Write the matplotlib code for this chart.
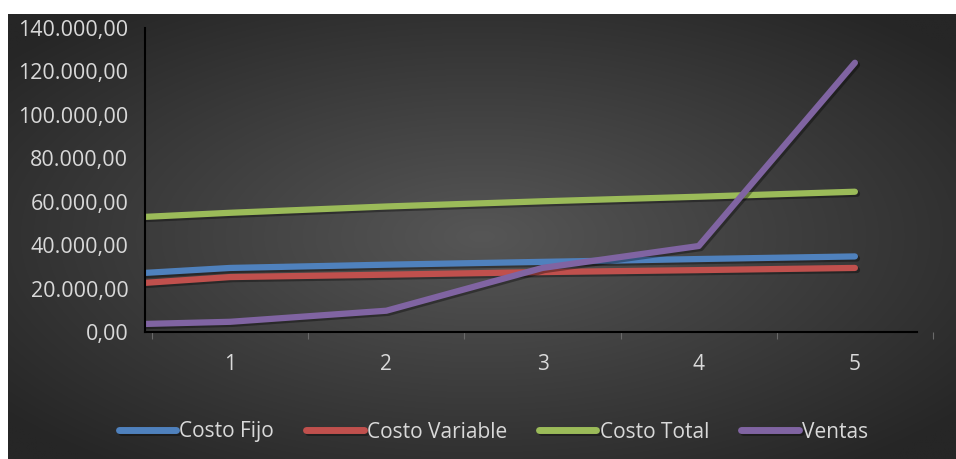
import numpy as np
import matplotlib
matplotlib.use("Agg")
import matplotlib.pyplot as plt
import matplotlib.patheffects as pe
from matplotlib.ticker import FuncFormatter

# categories (first point sits on the left edge of the axis)
periodos = [0.45, 1, 2, 3, 4, 5]
tick_labels = ["1", "2", "3", "4", "5"]

costo_fijo = [27200, 29500, 31000, 32300, 33600, 34800]
costo_variable = [22600, 25300, 26400, 27600, 28500, 29500]
costo_total = [53000, 54900, 57800, 60200, 62300, 64600]
ventas = [3700, 4700, 9800, 29500, 39600, 124000]

series = [
    ("Costo Fijo", costo_fijo, "#4F81BD"),
    ("Costo Variable", costo_variable, "#C0504D"),
    ("Costo Total", costo_total, "#9BBB59"),
    ("Ventas", ventas, "#8064A2"),
]

plt.rcParams['font.family'] = ['Open Sans', 'DejaVu Sans']
text_col = "#D9D9D9"

W, H = 956, 459
fig = plt.figure(figsize=(W / 100, H / 100), dpi=100)
fig.patch.set_facecolor("white")

# dark radial gradient background
bg = fig.add_axes([8 / W, 0, (W - 8) / W, (H - 14) / H])
bg.set_axis_off()
gx, gy = np.meshgrid(np.linspace(-1, 1, 400), np.linspace(-1, 1, 200))
r = np.clip(np.sqrt(gx ** 2 + gy ** 2) / 1.3, 0, 1)
light = np.array([0x56, 0x56, 0x56]) / 255
dark = np.array([0x26, 0x26, 0x26]) / 255
img = light[None, None, :] * (1 - r[..., None]) + dark[None, None, :] * r[..., None]
bg.imshow(img, aspect="auto", extent=[0, 1, 0, 1], interpolation="bilinear")
bg.set_zorder(-1)

ax = fig.add_axes([145 / W, 127 / H, (933 - 145) / W, (332 - 28) / H])
ax.set_facecolor("none")

shadow = [pe.SimpleLineShadow(offset=(1.5, -1.5), shadow_color="black", alpha=0.35), pe.Normal()]
for name, vals, col in series:
    ax.plot(periodos, vals, color=col, lw=4.5, label=name, solid_capstyle="round",
            solid_joinstyle="round", path_effects=shadow)

ax.set_xlim(0.455, 5.5)
ax.set_ylim(0, 140000)
ax.set_yticks(np.arange(0, 140001, 20000))
ax.yaxis.set_major_formatter(FuncFormatter(
    lambda v, p: "{:,.2f}".format(v).replace(",", "X").replace(".", ",").replace("X", ".")))
ax.tick_params(axis="y", length=0, pad=12, labelsize=15.5, labelcolor=text_col)

ax.set_xticks(np.arange(0.5, 5.6, 1))
ax.set_xticklabels([])
ax.tick_params(axis="x", which="major", length=5, color="#6A6A6A", direction="out")
ax.set_xticks(range(1, 6), minor=True)
ax.set_xticklabels(tick_labels, minor=True)
ax.tick_params(axis="x", which="minor", length=0, pad=16, labelsize=15, labelcolor=text_col)

for s in ["top", "right"]:
    ax.spines[s].set_visible(False)
ax.spines["left"].set_color("black")
ax.spines["bottom"].set_color("black")
ax.spines["left"].set_linewidth(1.5)
ax.spines["bottom"].set_linewidth(1.5)
ax.spines["bottom"].set_bounds(0.455, 5.4)

leg = fig.legend(loc="center", bbox_to_anchor=(0.516, 1 - 432 / H), ncol=4, frameon=False,
                 fontsize=15, handlelength=2.75, handletextpad=0.15, columnspacing=1.55,
                 labelcolor=text_col)
for h in leg.get_lines():
    h.set_linewidth(5)
    h.set_solid_capstyle("round")

fig.savefig("out.png", dpi=100)
